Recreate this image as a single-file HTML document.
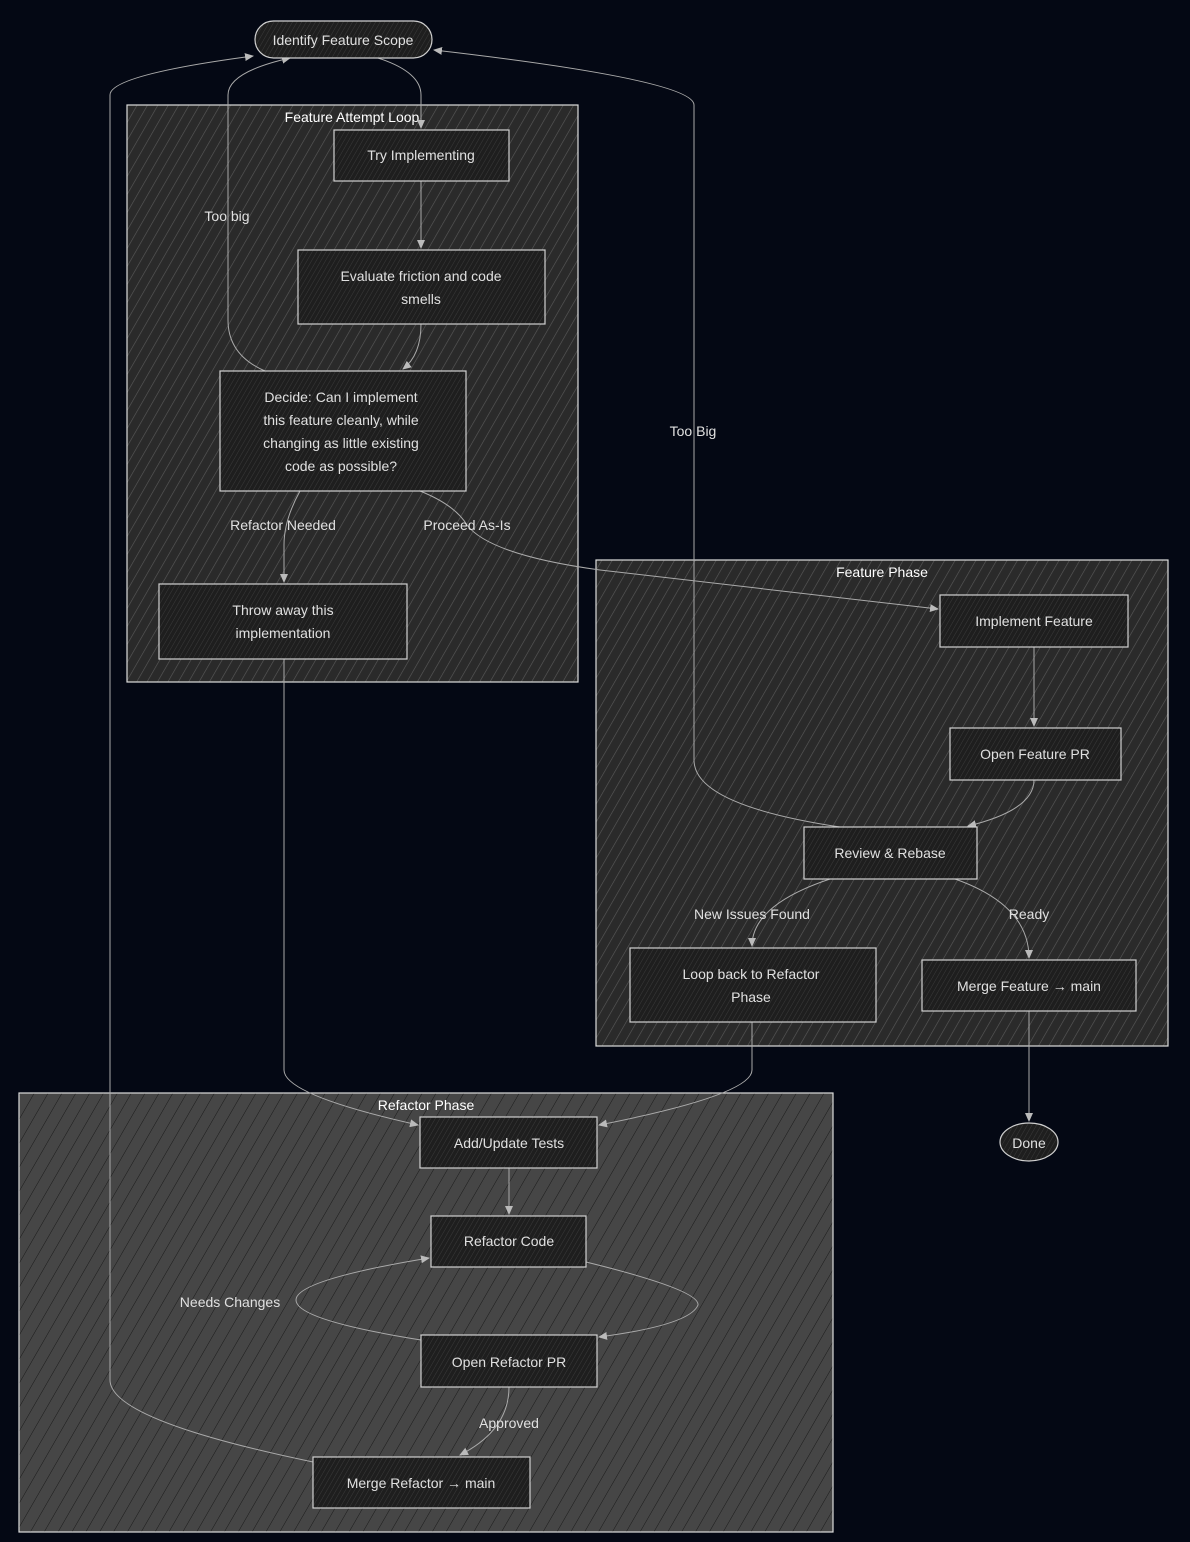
<!DOCTYPE html>
<html><head><meta charset="utf-8"><style>
html,body{margin:0;padding:0;background:#040814;}
svg{display:block;}
text{font-family:"Liberation Sans",sans-serif;font-size:14px;fill:#e0e0e0;text-anchor:middle;dominant-baseline:central;}
.t{fill:#fff;font-size:14px;}
.e{fill:none;stroke:#aaa;stroke-width:1;}
.n{fill:url(#hn);stroke:#d0d0d0;stroke-width:1.2;}
.lb{fill:none;}
</style></head><body>
<svg width="1190" height="1542" viewBox="0 0 1190 1542" xmlns="http://www.w3.org/2000/svg">
<defs>
<pattern id="hd" width="9" height="9" patternUnits="userSpaceOnUse" patternTransform="rotate(30)">
<rect width="9" height="9" fill="#2a2a2a"/><line x1="0" y1="0" x2="0" y2="9" stroke="#5a5a5a" stroke-width="1.2"/></pattern>
<pattern id="hg" width="12" height="12" patternUnits="userSpaceOnUse" patternTransform="rotate(30)">
<rect width="12" height="12" fill="#464646"/><line x1="0" y1="0" x2="0" y2="12" stroke="#1a1a1a" stroke-width="1"/></pattern>
<pattern id="hn" width="4" height="4" patternUnits="userSpaceOnUse" patternTransform="rotate(30)">
<rect width="4" height="4" fill="#1e1e1e"/><line x1="0" y1="0" x2="0" y2="4" stroke="#3a3a3a" stroke-width="1"/></pattern>
<marker id="a" markerWidth="10" markerHeight="10" refX="8" refY="5" orient="auto" markerUnits="userSpaceOnUse">
<path d="M0,1 L9,5 L0,9 Z" fill="#bbb"/></marker>
</defs>

<!-- clusters -->
<rect x="127" y="105" width="451" height="577" fill="url(#hd)" stroke="#ddd" stroke-width="1.2"/>
<rect x="596" y="560" width="572" height="486" fill="url(#hd)" stroke="#ddd" stroke-width="1.2"/>
<rect x="19" y="1093" width="814" height="439" fill="url(#hg)" stroke="#ddd" stroke-width="1.2"/>
<text class="t" x="352" y="117">Feature Attempt Loop</text>
<text class="t" x="882" y="572">Feature Phase</text>
<text class="t" x="426" y="1105">Refactor Phase</text>

<!-- edges -->
<path class="e" marker-end="url(#a)" d="M378,58 Q421,72 421,95 L421,128"/>
<path class="e" marker-end="url(#a)" d="M421,181 L421,248"/>
<path class="e" marker-end="url(#a)" d="M421,324 Q421,355 403,369"/>
<path class="e" marker-end="url(#a)" d="M265,371 Q228,355 228,320 L228,95 Q228,72 290,58"/>
<path class="e" marker-end="url(#a)" d="M300,491 Q284,520 284,545 L284,582"/>
<path class="e" marker-end="url(#a)" d="M420,491 Q455,505 467,525 Q490,555 600,570 L938,609"/>
<path class="e" marker-end="url(#a)" d="M284,659 L284,1070 Q284,1095 418,1125"/>
<path class="e" marker-end="url(#a)" d="M752,1022 L752,1070 Q752,1095 599,1125"/>
<path class="e" marker-end="url(#a)" d="M1034,647 L1034,726"/>
<path class="e" marker-end="url(#a)" d="M1034,780 Q1034,810 968,826"/>
<path class="e" marker-end="url(#a)" d="M840,827 Q694,805 694,760 L694,105 Q694,80 434,50"/>
<path class="e" marker-end="url(#a)" d="M830,879 Q752,905 752,946"/>
<path class="e" marker-end="url(#a)" d="M955,879 Q1029,905 1029,958"/>
<path class="e" marker-end="url(#a)" d="M1029,1011 L1029,1121"/>
<path class="e" marker-end="url(#a)" d="M509,1168 L509,1214"/>
<path class="e" marker-end="url(#a)" d="M586,1262 Q700,1290 698,1305 Q690,1325 599,1337"/>
<path class="e" marker-end="url(#a)" d="M421,1340 Q296,1320 296,1300 Q296,1280 429,1258"/>
<path class="e" marker-end="url(#a)" d="M509,1387 Q509,1430 460,1455"/>
<path class="e" marker-end="url(#a)" d="M313,1462 Q110,1420 110,1380 L110,95 Q110,75 253,56"/>

<!-- edge labels -->
<text x="227" y="216">Too big</text>
<text x="283" y="525">Refactor Needed</text>
<text x="467" y="525">Proceed As-Is</text>
<text x="693" y="431">Too Big</text>
<text x="752" y="914">New Issues Found</text>
<text x="1029" y="914">Ready</text>
<text x="230" y="1302">Needs Changes</text>
<text x="509" y="1423">Approved</text>

<!-- nodes -->
<rect class="n" x="255" y="21" width="177" height="37" rx="18.5"/>
<text x="343" y="40">Identify Feature Scope</text>
<rect class="n" x="334" y="130" width="175" height="51"/>
<text x="421" y="155">Try Implementing</text>
<rect class="n" x="298" y="250" width="247" height="74"/>
<text x="421" y="276">Evaluate friction and code</text><text x="421" y="299">smells</text>
<rect class="n" x="220" y="371" width="246" height="120"/>
<text x="341" y="397">Decide: Can I implement</text>
<text x="341" y="420">this feature cleanly, while</text>
<text x="341" y="443">changing as little existing</text>
<text x="341" y="466">code as possible?</text>
<rect class="n" x="159" y="584" width="248" height="75"/>
<text x="283" y="610">Throw away this</text><text x="283" y="633">implementation</text>
<rect class="n" x="940" y="595" width="188" height="52"/>
<text x="1034" y="621">Implement Feature</text>
<rect class="n" x="950" y="728" width="171" height="52"/>
<text x="1035" y="754">Open Feature PR</text>
<rect class="n" x="804" y="827" width="173" height="52"/>
<text x="890" y="853">Review &amp; Rebase</text>
<rect class="n" x="630" y="948" width="246" height="74"/>
<text x="751" y="974">Loop back to Refactor</text><text x="751" y="997">Phase</text>
<rect class="n" x="922" y="960" width="214" height="51"/>
<text x="1029" y="986">Merge Feature → main</text>
<ellipse class="n" cx="1029" cy="1142" rx="29" ry="19"/>
<text x="1029" y="1143">Done</text>
<rect class="n" x="420" y="1117" width="177" height="51"/>
<text x="509" y="1143">Add/Update Tests</text>
<rect class="n" x="431" y="1216" width="155" height="51"/>
<text x="509" y="1241">Refactor Code</text>
<rect class="n" x="421" y="1335" width="176" height="52"/>
<text x="509" y="1362">Open Refactor PR</text>
<rect class="n" x="313" y="1457" width="217" height="51"/>
<text x="421" y="1483">Merge Refactor → main</text>
</svg>
</body></html>
